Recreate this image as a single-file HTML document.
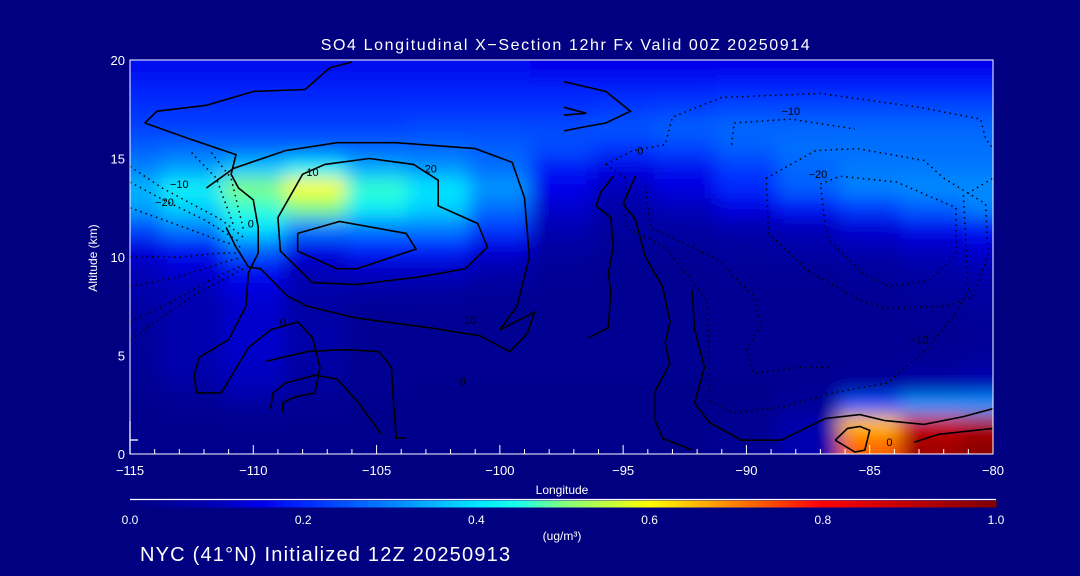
<!DOCTYPE html>
<html><head><meta charset="utf-8"><style>
html,body{margin:0;padding:0;background:#000080;}
svg{display:block;font-family:"Liberation Sans",sans-serif;}
</style></head><body>
<svg id="chart" width="1080" height="576" viewBox="0 0 1080 576" xmlns="http://www.w3.org/2000/svg">
<rect x="0" y="0" width="1080" height="576" fill="#000080"/>
<defs>
<clipPath id="plotclip"><rect x="130" y="60" width="863" height="394"/></clipPath>
<filter id="blur" x="-5%" y="-5%" width="110%" height="110%"><feGaussianBlur stdDeviation="9"/></filter>
</defs>
<g id="field-wrap" clip-path="url(#plotclip)"><g id="field" filter="url(#blur)"></g></g>
<g id="contours" clip-path="url(#plotclip)"></g>
<g id="axes"></g>
<text x="566" y="50" fill="#fff" font-size="16" letter-spacing="1.6" text-anchor="middle">SO4 Longitudinal X−Section 12hr  Fx Valid 00Z 20250914</text>
<text x="97" y="258" fill="#fff" font-size="12" text-anchor="middle" transform="rotate(-90 97 258)">Altitude (km)</text>
<text x="562" y="494" fill="#fff" font-size="12" text-anchor="middle">Longitude</text>
<text x="562" y="540" fill="#fff" font-size="12" text-anchor="middle">(ug/m³)</text>
<text x="140" y="561" fill="#fff" font-size="20" letter-spacing="1.2">NYC (41°N) Initialized 12Z 20250913</text>
</svg>
<script>
const lons = [-115,-112.5,-110,-107.5,-105,-102.5,-100,-97.5,-95,-92.5,-90,-87.5,-85,-82.5,-80];
const alts = [19.5,18.5,17.5,16.5,15.5,14.5,13.5,12.5,11.5,10.5,9.5,8.5,7.5,6.5,5.5,4.5,3.5,2.5,1.5,0.5];
const conc = [
[0.16,0.16,0.16,0.16,0.16,0.16,0.16,0.15,0.15,0.15,0.15,0.15,0.15,0.15,0.15],
[0.19,0.19,0.19,0.19,0.19,0.19,0.19,0.19,0.19,0.19,0.2,0.2,0.2,0.2,0.2],
[0.21,0.21,0.21,0.21,0.21,0.21,0.21,0.21,0.22,0.23,0.24,0.24,0.24,0.24,0.24],
[0.23,0.23,0.23,0.23,0.23,0.24,0.24,0.24,0.25,0.26,0.27,0.27,0.27,0.27,0.27],
[0.26,0.27,0.27,0.27,0.27,0.27,0.26,0.24,0.21,0.23,0.26,0.28,0.28,0.28,0.28],
[0.3,0.33,0.37,0.42,0.34,0.32,0.28,0.18,0.14,0.16,0.22,0.27,0.29,0.29,0.29],
[0.35,0.42,0.5,0.6,0.46,0.4,0.32,0.15,0.1,0.14,0.2,0.26,0.3,0.31,0.31],
[0.33,0.38,0.46,0.5,0.42,0.38,0.28,0.12,0.07,0.1,0.14,0.18,0.22,0.26,0.3],
[0.24,0.3,0.4,0.3,0.3,0.3,0.22,0.09,0.05,0.06,0.08,0.1,0.13,0.16,0.18],
[0.14,0.18,0.28,0.16,0.2,0.2,0.14,0.06,0.04,0.04,0.05,0.07,0.09,0.11,0.13],
[0.1,0.13,0.18,0.1,0.12,0.12,0.08,0.04,0.03,0.03,0.04,0.04,0.05,0.07,0.09],
[0.08,0.1,0.14,0.08,0.07,0.06,0.05,0.03,0.03,0.03,0.03,0.03,0.04,0.05,0.06],
[0.06,0.08,0.12,0.06,0.04,0.04,0.03,0.03,0.03,0.03,0.03,0.03,0.03,0.04,0.05],
[0.05,0.08,0.12,0.07,0.03,0.03,0.03,0.03,0.03,0.03,0.03,0.03,0.03,0.03,0.04],
[0.04,0.08,0.12,0.07,0.03,0.03,0.03,0.03,0.03,0.03,0.03,0.03,0.03,0.03,0.04],
[0.04,0.08,0.11,0.06,0.03,0.03,0.03,0.03,0.03,0.03,0.03,0.03,0.03,0.04,0.05],
[0.03,0.06,0.1,0.05,0.03,0.02,0.02,0.02,0.02,0.02,0.02,0.03,0.05,0.08,0.1],
[0.02,0.03,0.05,0.03,0.02,0.02,0.02,0.02,0.02,0.02,0.02,0.04,0.25,0.32,0.32],
[0.02,0.02,0.02,0.02,0.02,0.02,0.02,0.02,0.02,0.02,0.03,0.08,0.65,0.88,0.92],
[0.02,0.02,0.02,0.02,0.02,0.02,0.02,0.02,0.02,0.02,0.03,0.08,0.72,0.95,0.98]
];
const xTicks = [-115,-110,-105,-100,-95,-90,-85,-80];
const xTickLabels = ["−115","−110","−105","−100","−95","−90","−85","−80"];
const yTicks = [0,5,10,15,20];
const yTickLabels = ["0","5","10","15","20"];
const cbTicks = [0,0.2,0.4,0.6,0.8,1.0];
const cbTickLabels = ["0.0","0.2","0.4","0.6","0.8","1.0"];
const solidContours = [
[[-114.4,16.8],[-113.9,17.4],[-111.9,17.7],[-110.0,18.4],[-107.9,18.5],[-106.9,19.6],[-106.0,19.9]],
[[-114.4,16.8],[-112.6,16.0],[-110.7,15.2],[-110.9,14.2],[-110.6,13.5],[-110.0,12.9],[-109.8,11.5],[-109.8,10.2],[-110.2,9.2],[-110.3,7.5],[-111.0,5.8],[-112.2,4.9],[-112.4,4.0],[-112.3,3.1],[-111.3,3.1],[-110.2,5.4],[-109.3,6.3],[-108.2,6.7],[-107.6,5.9],[-107.3,4.4],[-107.5,3.1],[-108.3,2.9],[-108.8,2.6],[-108.8,2.1]],
[[-108.2,11.2],[-106.5,11.8],[-103.8,11.2],[-103.4,10.4],[-105.8,9.4],[-106.6,9.4],[-108.2,10.3],[-108.2,11.2]],
[[-109.0,12.0],[-108.9,10.3],[-107.6,8.7],[-105.8,8.6],[-103.2,9.0],[-101.4,9.4],[-100.5,10.5],[-100.9,11.7],[-102.5,12.6],[-102.5,13.9],[-103.5,14.7],[-105.3,15.0],[-107.1,14.7],[-108.0,14.2],[-109.0,12.0]],
[[-111.9,13.5],[-110.8,14.5],[-108.7,15.4],[-106.6,15.8],[-104.2,15.8],[-101.0,15.5],[-99.5,14.8],[-99.0,13.0],[-98.8,10.0],[-99.3,7.5],[-100.0,6.3],[-98.6,7.2],[-98.9,6.1],[-99.6,5.2],[-100.8,6.0],[-102.8,6.4],[-105.8,6.9],[-107.8,7.5],[-108.6,8.0],[-109.7,9.4],[-110.2,9.5],[-110.7,10.5],[-111.1,11.5]],
[[-109.5,4.7],[-107.8,5.2],[-106.3,5.3],[-104.9,5.2],[-104.4,4.4],[-104.3,2.4],[-104.2,0.8],[-103.8,0.8]],
[[-109.3,2.3],[-109.2,3.1],[-108.7,3.6],[-108.1,3.8],[-107.5,4.0],[-106.6,3.8],[-105.8,2.7],[-104.8,1.0]],
[[-95.4,14.1],[-95.9,13.3],[-96.1,12.6],[-95.5,12.0],[-95.4,10.5],[-95.6,9.2],[-95.5,8.2],[-95.6,6.4],[-96.4,5.9]],
[[-94.5,14.1],[-95.0,12.7],[-94.5,11.9],[-94.1,10.0],[-93.4,8.5],[-93.1,6.7],[-93.3,5.6],[-93.1,4.6],[-93.7,3.2],[-93.7,1.7],[-93.4,0.8],[-92.2,0.2]],
[[-92.2,8.3],[-92.1,6.3],[-91.7,4.4],[-92.1,2.6],[-91.5,1.6],[-90.2,0.7],[-88.6,0.7],[-86.8,1.8],[-85.4,2.0],[-84.4,1.7],[-82.8,1.5],[-81.2,1.9],[-80.0,2.3]],
[[-83.2,0.6],[-82.2,1.0],[-80.0,1.3]],
[[-86.4,0.7],[-85.9,1.3],[-85.4,1.4],[-85.0,1.2],[-85.2,0.2],[-85.6,0.1],[-86.4,0.7]],
[[-97.4,18.9],[-95.7,18.4],[-94.7,17.4],[-95.7,16.8],[-96.6,16.6],[-97.4,16.4]],
[[-97.4,17.6],[-96.5,17.3],[-97.4,17.2]]
];
const dottedContours = [
[[-95.7,14.7],[-94.6,15.4],[-93.3,15.7],[-93.0,17.1],[-91.0,18.1],[-87.0,18.3],[-83.0,17.6],[-80.5,17.0],[-80.3,16.0],[-80.0,15.5]],
[[-90.6,15.7],[-90.5,16.8],[-88.2,17.0],[-85.6,16.5]],
[[-87.0,13.7],[-86.2,14.1],[-83.9,13.8],[-81.5,12.5],[-81.5,10.1],[-82.6,8.8],[-84.2,8.5],[-85.3,9.2],[-86.6,10.8],[-86.8,11.6],[-87.0,13.7]],
[[-89.2,14.0],[-87.2,15.4],[-85.5,15.5],[-82.8,14.9],[-82.0,14.0],[-80.3,12.7],[-80.2,10.1],[-80.8,8.0],[-81.9,7.5],[-84.3,7.4],[-85.4,7.8],[-87.5,9.3],[-89.1,11.2],[-89.2,14.0]],
[[-95.7,14.7],[-94.9,14.0],[-94.9,11.5],[-93.3,10.5],[-91.6,7.8],[-91.5,5.1],[-91.5,2.7],[-90.5,2.1],[-88.5,2.4],[-86.5,3.1],[-84.3,3.6],[-82.7,5.3],[-81.6,7.0],[-81.0,8.3],[-81.2,13.1],[-80.0,14.0]],
[[-94.1,13.6],[-93.9,11.5],[-91.2,9.9],[-89.7,8.0],[-89.4,6.5],[-90.0,5.3],[-89.7,4.1],[-87.8,4.4],[-86.5,4.4]],
[[-115,14.6],[-113.7,13.5],[-112.5,12.7],[-111.3,11.9],[-110.4,11.0]],
[[-115,13.8],[-113.5,12.8],[-112.0,11.9],[-110.6,10.8]],
[[-115,12.5],[-113.0,11.6],[-111.5,10.9],[-110.5,10.5]],
[[-115,10.0],[-113.0,10.0],[-111.3,10.2],[-110.5,10.2]],
[[-115,8.5],[-113.0,9.0],[-111.0,9.8],[-110.4,10.0]],
[[-115,6.7],[-113.5,7.6],[-111.8,8.8],[-110.4,9.6]],
[[-115,5.8],[-112.5,8.0],[-110.4,9.4]],
[[-112.5,15.3],[-111.5,14.0],[-110.8,11.6]],
[[-111.7,15.3],[-110.9,14.0],[-110.4,11.4]]
];
const contourLabels = [["10",-107.6,14.1],["20",-102.8,14.3],["0",-94.3,15.2],["−10",-88.2,17.2],["−20",-87.1,14.0],["−10",-113.0,13.5],["−20",-113.6,12.6],["10",-101.2,6.6],["0",-108.8,6.5],["0",-110.1,11.5],["0",-101.5,3.5],["0",-84.2,0.4],["−10",-83.0,5.6]];

const NS="http://www.w3.org/2000/svg";
const X0=130,X1=993,Y0=454,Y1=60;
function xs(lon){return X0+(lon+115)/35*(X1-X0);}
function ys(alt){return Y0-alt/20*(Y0-Y1);}
const stops=[[0,0,0,130],[0.1,0,0,185],[0.15,0,0,235],[0.2,0,40,255],[0.3,0,130,255],[0.4,0,230,255],[0.45,30,255,230],[0.5,128,255,128],[0.6,255,255,0],[0.7,255,128,0],[0.8,255,0,0],[1.0,128,0,0]];
function cmap(v){v=Math.max(0,Math.min(1,v));for(let i=1;i<stops.length;i++){if(v<=stops[i][0]){const a=stops[i-1],b=stops[i],t=(v-a[0])/(b[0]-a[0]);return `rgb(${Math.round(a[1]+t*(b[1]-a[1]))},${Math.round(a[2]+t*(b[2]-a[2]))},${Math.round(a[3]+t*(b[3]-a[3]))})`;}}return "rgb(128,0,0)";}
function mk(tag,attrs,parent){const e=document.createElementNS(NS,tag);for(const k in attrs)e.setAttribute(k,attrs[k]);parent.appendChild(e);return e;}
const field=document.getElementById('field');
const dLon=2.5,dAlt=1;
for(let r=0;r<alts.length;r++){for(let c=0;c<lons.length;c++){
  const x=xs(lons[c]-dLon/2),x2=xs(lons[c]+dLon/2),y=ys(alts[r]+dAlt/2),y2=ys(alts[r]-dAlt/2);
  const ex=(c===0?-30:0),ex2=(c===lons.length-1?30:0),ey=(r===0?-30:0),ey2=(r===alts.length-1?30:0);
  const e=mk('rect',{x:x+ex,y:y+ey,width:x2-x-ex+ex2+0.5,height:y2-y-ey+ey2+0.5,fill:cmap(conc[r][c])},field);
  
  
}}
const cg=document.getElementById('contours');
function pts(a){return a.map(p=>xs(p[0]).toFixed(1)+','+ys(p[1]).toFixed(1)).join(' ');}
solidContours.forEach(c=>{const e=mk('polyline',{points:pts(c),fill:'none',stroke:'#000','stroke-width':1.6},cg);
  
  });
dottedContours.forEach(c=>{const e=mk('polyline',{points:pts(c),fill:'none',stroke:'#000','stroke-width':1.5,'stroke-dasharray':'1.5 4'},cg);
  
  });
contourLabels.forEach(l=>{const e=mk('text',{x:xs(l[1]),y:ys(l[2]),'font-size':11,fill:'#000','text-anchor':'middle'},cg);e.textContent=l[0];
  
  });
const ax=document.getElementById('axes');
mk('rect',{x:X0,y:Y1,width:X1-X0,height:Y0-Y1,fill:'none',stroke:'#fff','stroke-width':1},ax);
mk('line',{x1:X0,y1:Y0,x2:X0,y2:421,stroke:'#fff','stroke-width':1.3},ax);
mk('line',{x1:X0,y1:440,x2:X0+8,y2:440,stroke:'#fff','stroke-width':1.3},ax);
for(let lon=-115;lon<=-80;lon++){const major=xTicks.includes(lon);mk('line',{x1:xs(lon),y1:Y0,x2:xs(lon),y2:Y0-(major?9:5),stroke:'#fff','stroke-width':1},ax);}
xTicks.forEach((t,i)=>{const e=mk('text',{x:xs(t),y:Y0+21,'font-size':13,fill:'#fff','text-anchor':'middle'},ax);e.textContent=xTickLabels[i];
  
  });
yTicks.forEach((t,i)=>{const e=mk('text',{x:X0-5,y:ys(t)+5,'font-size':13,fill:'#fff','text-anchor':'end'},ax);e.textContent=yTickLabels[i];
  
  });
const CB0=130,CB1=996;
mk('line',{x1:CB0,y1:499.5,x2:CB1,y2:499.5,stroke:'#fff','stroke-width':1.3},ax);
for(let i=0;i<200;i++){const v=i/199;const e=mk('rect',{x:CB0+i*(CB1-CB0)/200,y:500.5,width:(CB1-CB0)/200+0.6,height:7,fill:cmap(v)},ax);
  
  }
cbTicks.forEach((t,i)=>{const e=mk('text',{x:CB0+t*(CB1-CB0),y:524,'font-size':12,fill:'#fff','text-anchor':'middle'},ax);e.textContent=cbTickLabels[i];
  
  });
</script>
</body></html>
